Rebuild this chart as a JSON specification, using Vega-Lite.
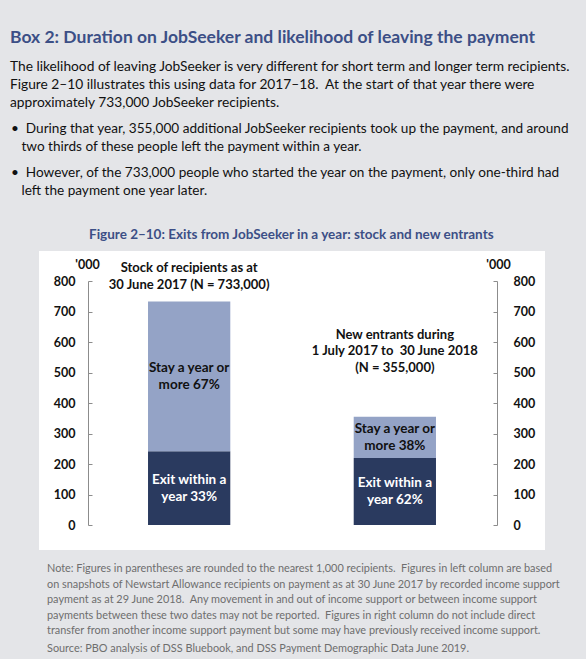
{
  "$schema": "https://vega.github.io/schema/vega-lite/v6.json",
  "description": "Box 2: exits from JobSeeker in a year, stock and new entrants",
  "background": "#e4e5e8",
  "padding": {"left": 10, "top": 29, "right": 14, "bottom": 5},
  "title": {
    "text": "Box 2: Duration on JobSeeker and likelihood of leaving the payment",
    "subtitle": [
      "The likelihood of leaving JobSeeker is very different for short term and longer term recipients.",
      "Figure 2\u201310 illustrates this using data for 2017\u201318.\u00a0 At the start of that year there were",
      "approximately 733,000 JobSeeker recipients."
    ],
    "anchor": "start",
    "frame": "group",
    "dx": -29,
    "offset": 13,
    "font": "Lato",
    "fontSize": 17.5,
    "fontWeight": "bold",
    "color": "#3c4f86",
    "subtitleFont": "Lato",
    "subtitleFontSize": 13.75,
    "subtitleColor": "#111111",
    "subtitleLineHeight": 18,
    "subtitlePadding": 13
  },
  "vconcat": [
    {
      "title": {
        "text": [
          "\u2022\u00a0\u00a0During that year, 355,000 additional JobSeeker recipients took up the payment, and around",
          "\u200b\u00a0\u00a0\u00a0two thirds of these people left the payment within a year."
        ],
        "subtitle": [
          "\u2022\u00a0\u00a0However, of the 733,000 people who started the year on the payment, only one-third had",
          "\u200b\u00a0\u00a0\u00a0left the payment one year later."
        ],
        "anchor": "start",
        "frame": "group",
        "dx": -28,
        "offset": 30,
        "font": "Lato",
        "fontSize": 13.6,
        "fontWeight": "normal",
        "color": "#111111",
        "lineHeight": 18,
        "subtitleFont": "Lato",
        "subtitleFontSize": 13.6,
        "subtitleColor": "#111111",
        "subtitleLineHeight": 18,
        "subtitlePadding": 12
      },
      "vconcat": [
        {
          "title": {
            "text": "Figure 2\u201310: Exits from JobSeeker in a year: stock and new entrants",
            "anchor": "start",
            "frame": "group",
            "dx": 50,
            "offset": 10,
            "font": "Lato",
            "fontSize": 13.5,
            "fontWeight": "bold",
            "color": "#3c4f86"
          },
          "vconcat": [
            {
              "width": 506,
              "height": 299,
              "title": {
                "text": [
                  "Note: Figures in parentheses are rounded to the nearest 1,000 recipients.\u00a0 Figures in left column are based",
                  "on snapshots of Newstart Allowance recipients on payment as at 30 June 2017 by recorded income support",
                  "payment as at 29 June 2018.\u00a0 Any movement in and out of income support or between income support",
                  "payments between these two dates may not be reported.\u00a0 Figures in right column do not include direct",
                  "transfer from another income support payment but some may have previously received income support."
                ],
                "subtitle": "Source: PBO analysis of DSS Bluebook, and DSS Payment Demographic Data June 2019.",
                "orient": "bottom",
                "anchor": "start",
                "frame": "group",
                "dx": 8,
                "offset": 13,
                "font": "Lato",
                "fontSize": 10.9,
                "fontWeight": "normal",
                "color": "#6e6e6e",
                "lineHeight": 15.5,
                "subtitleFont": "Lato",
                "subtitleFontSize": 10.9,
                "subtitleColor": "#6e6e6e",
                "subtitlePadding": 7
              },
              "data": {
                "values": [
                  {"group": "stock", "segment": "Exit within a year", "value": 242, "label": "Exit within a\nyear 33%"},
                  {"group": "stock", "segment": "Stay a year or more", "value": 491, "label": "Stay a year or\nmore 67%"},
                  {"group": "new", "segment": "Exit within a year", "value": 220, "label": "Exit within a\nyear 62%"},
                  {"group": "new", "segment": "Stay a year or more", "value": 135, "label": "Stay a year or\nmore 38%"}
                ]
              },
              "encoding": {
                "x": {
                  "field": "group",
                  "type": "nominal",
                  "sort": ["stock", "new"],
                  "scale": {"paddingInner": 0.6, "paddingOuter": 0.53},
                  "axis": null
                }
              },
              "layer": [
                {
                  "mark": {"type": "bar"},
                  "encoding": {
                    "y": {
                      "field": "value",
                      "type": "quantitative",
                      "stack": "zero",
                      "scale": {"domain": [0, 800], "range": [274, 30], "nice": false},
                      "axis": {
                        "orient": "left",
                        "offset": -49,
                        "values": [0, 100, 200, 300, 400, 500, 600, 700, 800],
                        "grid": false,
                        "domainColor": "#8c8c8c",
                        "tickColor": "#8c8c8c",
                        "tickSize": -4,
                        "labelPadding": 17,
                        "labelFont": "Lato",
                        "labelFontSize": 12.5,
                        "labelFontWeight": "bold",
                        "labelColor": "#111111",
                        "title": "'000",
                        "titleAngle": 0,
                        "titleX": -1,
                        "titleY": 13,
                        "titleAlign": "center",
                        "titleBaseline": "middle",
                        "titleFont": "Lato",
                        "titleFontSize": 12.5,
                        "titleFontWeight": "bold",
                        "titleColor": "#111111"
                      }
                    },
                    "color": {
                      "field": "segment",
                      "type": "nominal",
                      "scale": {"domain": ["Exit within a year", "Stay a year or more"], "range": ["#2a3a5f", "#94a3c6"]},
                      "legend": null
                    },
                    "order": {"field": "segment", "type": "ordinal", "sort": "ascending"}
                  }
                },
                {
                  "transform": [
                    {"stack": "value", "groupby": ["group"], "sort": [{"field": "segment", "order": "ascending"}], "as": ["v0", "v1"]},
                    {"fold": ["v0", "v1"], "as": ["edge", "pos"]},
                    {"aggregate": [{"op": "mean", "field": "pos", "as": "mid"}], "groupby": ["group", "segment", "label"]}
                  ],
                  "mark": {"type": "text", "lineBreak": "\n", "font": "Lato", "fontSize": 13.5, "fontWeight": "bold", "lineHeight": 17, "baseline": "middle", "dy": -8.5},
                  "encoding": {
                    "y": {
                      "field": "mid",
                      "type": "quantitative",
                      "axis": {
                        "orient": "right",
                        "offset": -48,
                        "values": [0, 100, 200, 300, 400, 500, 600, 700, 800],
                        "grid": false,
                        "domainColor": "#8c8c8c",
                        "tickColor": "#8c8c8c",
                        "tickSize": -4,
                        "labelPadding": 20,
                        "labelFont": "Lato",
                        "labelFontSize": 12.5,
                        "labelFontWeight": "bold",
                        "labelColor": "#111111",
                        "title": "'000",
                        "titleAngle": 0,
                        "titleX": 1,
                        "titleY": 13,
                        "titleAlign": "center",
                        "titleBaseline": "middle",
                        "titleFont": "Lato",
                        "titleFontSize": 12.5,
                        "titleFontWeight": "bold",
                        "titleColor": "#111111"
                      }
                    },
                    "text": {"field": "label", "type": "nominal"},
                    "color": {
                      "condition": {"test": "datum.segment === 'Exit within a year'", "value": "#ffffff"},
                      "value": "#111111"
                    }
                  }
                },
                {
                  "data": {"values": [{"group": "stock", "caption": "Stock of recipients as at\n30 June 2017 (N = 733,000)"}]},
                  "mark": {"type": "text", "lineBreak": "\n", "font": "Lato", "fontSize": 13, "fontWeight": "bold", "lineHeight": 17, "baseline": "middle", "color": "#111111"},
                  "encoding": {
                    "y": {"datum": 843, "type": "quantitative", "axis": null},
                    "text": {"field": "caption", "type": "nominal"}
                  }
                },
                {
                  "data": {"values": [{"group": "new", "caption": "New entrants during\n1 July 2017 to\u00a0 30 June 2018\n(N = 355,000)"}]},
                  "mark": {"type": "text", "lineBreak": "\n", "font": "Lato", "fontSize": 13, "fontWeight": "bold", "lineHeight": 16.5, "baseline": "middle", "color": "#111111"},
                  "encoding": {
                    "y": {"datum": 623, "type": "quantitative", "axis": null},
                    "text": {"field": "caption", "type": "nominal"}
                  }
                }
              ],
              "resolve": {"axis": {"y": "independent"}}
            }
          ]
        }
      ]
    }
  ],
  "config": {
    "view": {"fill": "#ffffff", "stroke": null}
  }
}
